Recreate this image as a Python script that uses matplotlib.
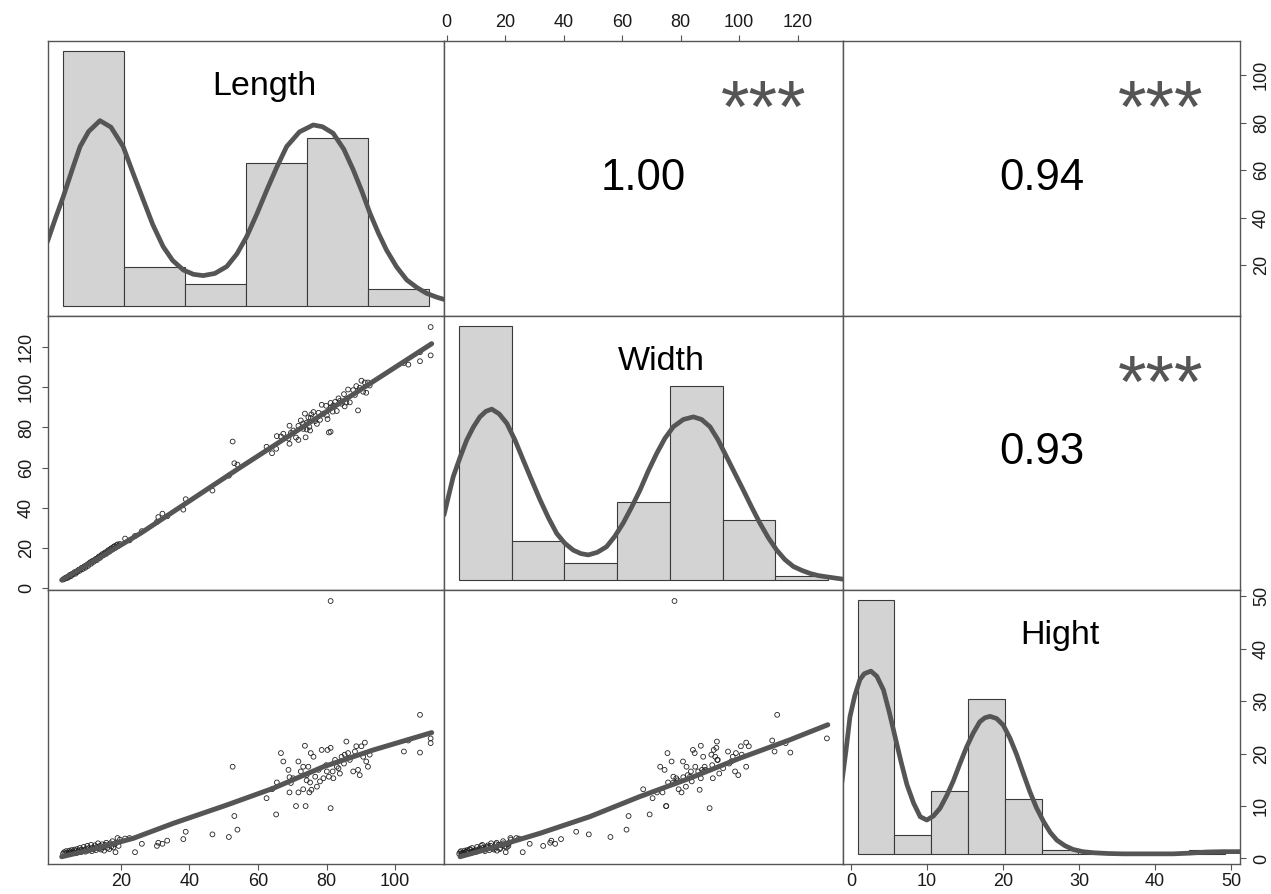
import matplotlib
matplotlib.use('Agg')
import matplotlib.pyplot as plt

plt.rcParams['font.family'] = ['Liberation Sans', 'DejaVu Sans']

# ---- data ----
names = ['Length', 'Width', 'Hight']
corr_text = {(0, 1): '1.00', (0, 2): '0.94', (1, 2): '0.93'}
stars = '***'

length_pts = [3.1, 3.4, 3.8, 4.0, 4.3, 4.6, 4.9, 5.1, 5.4, 5.6, 5.9, 6.2, 6.4, 6.7, 6.9, 7.2, 7.5, 7.7,
              8.0, 8.3, 8.5, 8.8, 9.1, 9.3, 9.6, 9.9, 10.2, 10.4, 10.7, 11.0, 11.3, 11.5, 11.8, 12.1,
              12.4, 12.7, 13.0, 13.3, 13.6, 13.9, 14.2, 14.5, 14.8, 15.1, 15.4, 15.7, 16.0, 16.3, 16.6,
              16.9, 17.2, 17.5, 17.8, 18.1, 18.4, 18.7, 19.0, 19.3, 19.7,
              21.2, 22.5, 24.1, 26.1, 30.5, 30.9, 32.1, 33.5, 38.2, 38.9, 46.7, 51.5, 52.6, 53.1, 54.0,
              62.5, 64.1, 65.3, 65.5, 66.7, 67.4, 68.9, 69.2, 69.2, 69.6, 71.1, 71.8, 71.8, 72.5, 73.2,
              73.7, 73.9, 74.2, 74.7, 75.0, 75.2, 75.4, 76.2, 76.7, 77.2, 77.7, 78.1, 78.6, 79.1, 79.9,
              80.3, 80.7, 81.2, 81.2, 81.8, 82.5, 83.0, 83.9, 84.4, 85.1, 85.8, 86.3, 86.8, 87.8, 88.3,
              88.7, 89.2, 89.7, 90.2, 90.7, 91.2, 91.6, 92.1, 92.6, 74.2, 73.2, 80.1, 82.0, 83.5, 85.3,
              70.3, 75.6, 102.6, 103.9, 107.3, 107.3, 110.4, 110.4, 81.2]
width_pts = [4.3, 4.6, 5.2, 4.9, 5.6, 5.3, 6.1, 6.6, 6.0, 7.0, 6.8, 7.4, 7.9, 7.2, 8.3, 8.0, 8.8, 9.2,
             8.7, 9.6, 10.1, 9.5, 10.4, 10.9, 10.2, 11.3, 11.8, 11.1, 12.3, 12.9, 12.2, 13.1, 13.7, 13.2,
             14.1, 14.6, 14.0, 15.2, 15.8, 15.1, 16.2, 16.9, 16.3, 17.2, 17.8, 17.1, 18.3, 18.9, 18.2,
             19.4, 19.9, 19.3, 20.5, 20.9, 20.2, 21.4, 21.8, 21.1, 22.0,
             24.7, 23.8, 26.0, 28.4, 33.0, 35.4, 37.1, 35.8, 39.1, 44.3, 48.6, 56.0, 73.0, 62.2, 61.5,
             70.4, 67.2, 69.4, 75.7, 75.5, 76.9, 74.5, 80.9, 71.9, 77.3, 75.0, 80.8, 73.8, 83.5, 79.3,
             86.9, 75.1, 82.4, 85.0, 80.3, 78.5, 84.8, 87.7, 83.2, 81.8, 87.3, 83.8, 91.3, 86.9, 90.8,
             84.2, 77.5, 92.2, 89.9, 87.9, 92.7, 88.2, 93.2, 91.8, 96.6, 92.4, 98.9, 92.5, 98.6, 96.2,
             100.6, 88.5, 99.7, 103.3, 97.8, 102.4, 97.3, 102.4, 100.9, 79.0, 82.0, 86.0, 91.0, 94.5, 90.5,
             78.5, 86.5, 112.1, 111.3, 113.0, 117.5, 115.9, 130.0, 77.9]
hight_pts = [0.9, 1.2, 1.0, 1.4, 1.1, 0.9, 1.5, 1.2, 1.0, 1.6, 1.3, 1.1, 1.7, 1.4, 1.0, 1.8, 1.3, 1.5,
             2.0, 1.2, 1.7, 1.4, 2.2, 1.6, 1.3, 1.9, 2.4, 1.5, 2.0, 1.7, 2.6, 1.4, 2.1, 1.8, 2.5, 1.6,
             2.2, 2.9, 1.9, 2.4, 1.7, 2.7, 2.1, 1.5, 2.6, 3.0, 2.0, 2.5, 1.8, 2.9, 2.3, 3.3, 2.1, 2.7,
             1.2, 3.0, 3.9, 2.4, 3.6,
             3.8, 3.9, 1.2, 2.8, 2.4, 3.0, 2.8, 3.4, 3.7, 5.1, 4.6, 4.1, 17.5, 8.1, 5.5,
             11.5, 13.2, 8.4, 14.5, 20.1, 18.5, 16.9, 15.5, 12.6, 14.4, 10.0, 18.5, 12.6, 16.6, 13.2,
             21.5, 10.0, 15.9, 17.5, 12.6, 14.5, 20.1, 19.4, 15.6, 13.7, 16.9, 14.7, 20.7, 15.3, 17.8,
             20.7, 15.6, 21.1, 9.6, 16.6, 18.8, 17.5, 16.2, 19.4, 18.1, 22.3, 20.1, 18.8, 16.6, 20.4,
             21.4, 16.9, 15.9, 21.4, 19.4, 22.1, 18.5, 17.5, 19.8, 14.9, 17.5, 16.6, 15.3, 17.2, 19.8,
             15.3, 13.1, 20.4, 22.5, 27.4, 20.2, 22.0, 22.9, 49.1]

# smoothed fits in the scatter panels
smooth_lw_x = [2.7, 25.6, 54.8, 84.0, 110.7]
smooth_lw_y = [4.05, 27.2, 60.1, 92.3, 121.7]
smooth_lh_x = [2.7, 11.0, 23.6, 35.3, 50.9, 64.5, 79.1, 93.7, 110.7]
smooth_lh_y = [0.34, 1.62, 3.85, 6.71, 10.2, 13.4, 17.5, 20.7, 24.0]
smooth_wh_x = [4.6, 14.8, 31.9, 48.9, 66.0, 83.1, 100.1, 117.2, 130.3]
smooth_wh_y = [0.34, 1.94, 4.8, 7.97, 11.8, 15.3, 19.1, 22.6, 25.5]

# histograms (counts) and density curves (same units)
len_breaks = [0, 20, 40, 60, 80, 100, 120]
len_counts = [59, 9, 5, 33, 39, 4]
len_dens_x = [-5.0, -2.5, 0.2, 3.0, 5.7, 8.5, 12.2, 15.8, 19.8, 23.0, 26.4, 29.5, 32.9, 36.0, 39.5,
              42.8, 46.0, 49.8, 53.7, 57.0, 60.2, 63.5, 66.8, 70.0, 73.3, 77.5, 82.0, 85.0, 88.5,
              92.0, 95.1, 98.0, 100.6, 103.3, 106.0, 109.3, 112.6, 116.0, 119.1, 122.4, 125.7]
len_dens_y = [14.85, 20.0, 25.3, 31.3, 36.9, 40.4, 42.9, 41.4, 36.9, 30.8, 24.5, 18.8, 13.7, 10.5, 8.3,
              7.3, 7.0, 7.5, 9.1, 12.0, 16.0, 21.2, 26.8, 32.0, 36.9, 40.3, 41.9, 41.5, 40.0,
              36.3, 31.5, 26.4, 21.4, 16.9, 12.9, 9.0, 6.0, 4.2, 2.9, 2.0, 1.3]

wid_breaks = [0, 20, 40, 60, 80, 100, 120, 140]
wid_counts = [59, 9, 4, 18, 45, 14, 1]
wid_dens_x = [-5.6, -2.1, 0.5, 3.0, 5.5, 8.0, 10.3, 12.5, 15.3, 18.2, 21.3, 24.4, 27.6, 30.8, 34.0,
              37.1, 40.2, 43.4, 46.3, 49.1, 52.5, 56.0, 59.1, 62.3, 65.5, 68.7, 71.8, 75.0, 78.1, 81.3,
              85.1, 88.9, 92.0, 95.2, 98.3, 101.5, 104.6, 107.8, 111.0, 114.1, 117.3, 120.5, 123.6,
              126.8, 130.0, 133.1, 136.2, 139.4, 142.8, 146.3]
wid_dens_y = [15.1, 24.0, 28.5, 32.5, 35.5, 37.9, 39.2, 39.7, 38.6, 36.4, 32.5, 27.9, 23.2, 18.6, 14.4,
              10.8, 8.5, 6.9, 6.1, 5.8, 6.4, 7.7, 10.1, 13.2, 16.9, 20.9, 25.3, 29.4, 32.9, 35.6,
              37.3, 37.9, 37.3, 35.6, 32.5, 28.6, 24.8, 20.9, 16.9, 13.2, 9.8, 6.9, 4.7,
              3.1, 2.2, 1.5, 1.0, 0.7, 0.4, 0.1]

hig_breaks = [0, 5, 10, 15, 20, 25, 30, 35, 40, 45, 50]
hig_counts = [69, 5, 17, 42, 15, 1, 0, 0, 0, 1]
hig_dens_x = [-2.2, -1.6, -1.05, -0.4, 0.3, 0.9, 1.8, 2.6, 3.5, 4.3, 5.1, 5.9, 6.7, 7.6, 8.5,
              9.4, 10.3, 11.2, 12.1, 13.0, 13.9, 14.8, 15.7, 16.6, 17.3, 18.0, 18.9, 19.8, 20.7, 21.6,
              22.5, 23.4, 24.3, 25.3, 26.2, 27.1, 28.2, 29.3, 30.6, 32.1, 34.0, 36.1, 39.5, 42.9,
              45.2, 47.5, 49.8, 52.0]
hig_dens_y = [18.8, 28.0, 37.3, 43.0, 47.4, 49.0, 49.7, 48.3, 44.6, 38.5, 31.7, 25.0, 18.8, 13.8, 10.1,
              9.2, 10.3, 12.4, 15.8, 19.8, 24.5, 29.0, 32.8, 35.9, 37.0, 37.4, 36.8, 35.0, 31.5, 27.1,
              22.0, 17.0, 12.6, 8.7, 5.8, 3.7, 2.2, 1.2, 0.6, 0.3, 0.1, 0.0, 0.0, 0.0,
              0.2, 0.5, 0.6, 0.6]

# ---- layout ----
FW, FH = 1271, 894
col_edges = [48, 444, 843, 1240]
row_edges = [41, 316, 590, 864]
lims = {'Length': (-1.3, 114.3), 'Width': (-0.9, 135.5), 'Hight': (-1.05, 51.2)}
ticks = {'Length': [20, 40, 60, 80, 100], 'Width': [0, 20, 40, 60, 80, 100, 120],
         'Hight': [0, 10, 20, 30, 40, 50]}
values = {'Length': length_pts, 'Width': width_pts, 'Hight': hight_pts}
smooths = {(1, 0): (smooth_lw_x, smooth_lw_y), (2, 0): (smooth_lh_x, smooth_lh_y),
           (2, 1): (smooth_wh_x, smooth_wh_y)}
hists = [(len_breaks, len_counts, len_dens_x, len_dens_y),
         (wid_breaks, wid_counts, wid_dens_x, wid_dens_y),
         (hig_breaks, hig_counts, hig_dens_x, hig_dens_y)]

GREY = '#555555'
fig = plt.figure(figsize=(FW / 100, FH / 100), dpi=100)


def rect(r, c):
    x0, x1 = col_edges[c], col_edges[c + 1]
    y0, y1 = row_edges[r], row_edges[r + 1]
    return [x0 / FW, 1 - y1 / FH, (x1 - x0) / FW, (y1 - y0) / FH]


for r in range(3):
    for c in range(3):
        ax = fig.add_axes(rect(r, c))
        ax.set_xlim(lims[names[c]])
        ax.set_ylim(lims[names[r]])
        ax.set_xticks([])
        ax.set_yticks([])
        for s in ax.spines.values():
            s.set_color(GREY)
            s.set_linewidth(1.0)
        ax.tick_params(length=4.3, width=0.8, color=GREY, labelsize=13, labelcolor='#1a1a1a')

        # pairs axes: bottom for cols 0,2; top for col 1; left row 1; right rows 0,2
        if r == 2 and c in (0, 2):
            ax.set_xticks(ticks[names[c]])
            ax.tick_params(axis='x', pad=2)
        if r == 0 and c == 1:
            ax.xaxis.tick_top()
            ax.set_xticks(ticks[names[c]])
            ax.tick_params(axis='x', pad=3)
        if c == 0 and r == 1:
            ax.set_yticks(ticks[names[r]])
            plt.setp(ax.get_yticklabels(), rotation=90, va='center', ha='right')
            ax.tick_params(axis='y', pad=5)
        if c == 2 and r in (0, 2):
            ax.yaxis.tick_right()
            ax.set_yticks(ticks[names[r]])
            plt.setp(ax.get_yticklabels(), rotation=90, va='center', ha='left')
            ax.tick_params(axis='y', pad=5)

        if r > c:
            ax.scatter(values[names[c]], values[names[r]], s=12, facecolors='none',
                       edgecolors='#222222', linewidths=0.6, zorder=2)
            sx, sy = smooths[(r, c)]
            ax.plot(sx, sy, color=GREY, lw=3.6, solid_capstyle='round',
                    solid_joinstyle='round', zorder=3)
        elif r < c:
            ax.text(0.5, 0.5, corr_text[(r, c)], transform=ax.transAxes, ha='center',
                    va='center', fontsize=31.5, color='black')
            ax.text(0.8, 0.74, stars, transform=ax.transAxes, ha='center', va='center',
                    fontsize=53, color=GREY)
        else:
            br, cnt, dx, dy = hists[r]
            hx = fig.add_axes(rect(r, c))
            hx.set_axis_off()
            span = br[-1] - br[0]
            hx.set_xlim(br[0] - 0.04 * span, br[-1] + 0.04 * span)
            m = max(cnt)
            hx.set_ylim(-0.04 * m, 1.04 * m)
            hx.bar(br[:-1], cnt, width=br[1] - br[0], align='edge', color='#d3d3d3',
                   edgecolor='#3a3a3a', linewidth=0.8)
            hx.plot(dx, dy, color=GREY, lw=3.4, solid_capstyle='round', solid_joinstyle='round')
            w = col_edges[c + 1] - col_edges[c]
            h = row_edges[r + 1] - row_edges[r]
            hx.text(0.5 + 18 / w, 1 - 54 / h, names[r], transform=hx.transAxes,
                    ha='center', va='baseline', fontsize=24.5, color='black')

fig.savefig('out.png', dpi=100)
